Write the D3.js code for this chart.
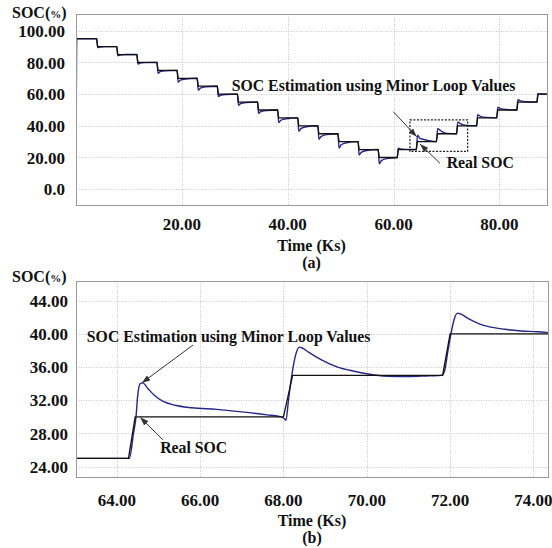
<!DOCTYPE html>
<html>
<head>
<meta charset="utf-8">
<script src="https://cdn.jsdelivr.net/npm/d3@7"></script>
<style>
  body { margin: 0; background: #fff; }
  text { font-family: "Liberation Serif", "Times New Roman", serif; font-weight: bold; fill: #111; }
  .grid { stroke: #c4c4c4; stroke-width: 1; stroke-dasharray: 1,1.5; }
  .frame { fill: none; stroke: #9a9a9a; stroke-width: 1; }
  .real { fill: none; stroke: #111; stroke-width: 1.3; }
  .est { fill: none; stroke: #26268a; stroke-width: 1.4; }
  .note { stroke: #333; stroke-width: 1; }
</style>
</head>
<body>
<script>
// ---- data, panel (a) ----
var stepTimesA = [3.9, 7.7, 11.5, 15.3, 19.1, 22.9, 26.7, 30.5, 34.3, 38.1, 41.9, 45.7, 49.5, 53.3, 57.1,
                  60.7, 64.3, 68.1, 71.9, 75.7, 79.5, 83.3, 87.1];
var realLevelsA = [95, 90, 85, 80, 75, 70, 65, 60, 55, 50, 45, 40, 35, 30, 25, 20,
                   25, 30, 35, 40, 45, 50, 55, 60];
var estA = [[0, 0], [0.15, 95], [3.9, 95],
  [4.1, 89.4], [4.5, 89.8], [5.5, 90], [7.7, 90],
  [7.9, 84.2], [8.3, 84.7], [9.3, 85], [11.5, 85],
  [11.7, 79], [12.1, 79.6], [13.1, 79.9], [15.3, 80],
  [15.5, 73.2], [15.9, 74.2], [16.9, 74.8], [19.1, 75],
  [19.3, 67.5], [19.7, 68.8], [20.7, 69.6], [22.9, 70],
  [23.1, 62.5], [23.5, 63.8], [24.5, 64.6], [26.7, 65],
  [26.9, 58.5], [27.3, 59.3], [28.3, 59.8], [30.5, 60],
  [30.7, 53], [31.1, 54], [32.1, 54.7], [34.3, 55],
  [34.5, 47.8], [34.9, 48.9], [35.9, 49.6], [38.1, 50],
  [38.3, 42], [38.7, 43.5], [39.7, 44.5], [41.9, 45],
  [42.1, 36.5], [42.5, 38.2], [43.5, 39.4], [45.7, 40],
  [45.9, 31.5], [46.3, 33.2], [47.3, 34.4], [49.5, 35],
  [49.7, 26], [50.1, 28], [51.1, 29.3], [53.3, 30],
  [53.5, 21.5], [53.9, 23.2], [54.9, 24.4], [57.1, 25],
  [57.3, 16], [57.7, 18], [58.7, 19.3], [60.7, 20],
  [60.9, 25.8], [61.3, 25.4], [62.3, 25.1], [64.3, 25],
  [64.55, 34], [65.0, 32], [66.5, 30.8], [68.1, 30],
  [68.35, 38.4], [68.9, 36.9], [70, 35.2], [71.9, 35],
  [72.15, 42.5], [72.6, 41.4], [73.5, 40.4], [75.7, 40],
  [75.9, 47], [76.4, 46], [77.5, 45.3], [79.5, 45],
  [79.7, 51.8], [80.2, 50.9], [81.3, 50.3], [83.3, 50],
  [83.5, 56.5], [84, 55.7], [85.1, 55.2], [87.1, 55],
  [87.3, 60.3], [88, 60.1], [89, 60]];
var xTicksA = [20, 40, 60, 80];
var yTicksA = [0, 20, 40, 60, 80, 100];
var yLabelsA = ["0.0", "20.00", "40.00", "60.00", "80.00", "100.00"];
var zoomBoxA = [63.1, 74.0, 23.8, 43.8];   // t0, t1, soc0, soc1

// ---- data, panel (b) ----
var realB = [[63.02, 25], [64.28, 25], [64.44, 30], [68.0, 30], [68.22, 35], [71.82, 35], [72.0, 40], [74.35, 40]];
var estB = [[63.02, 25.0], [64.30, 25.0], [64.40, 28.0], [64.46, 30.0], [64.50, 32.5], [64.56, 34.0],
  [64.62, 34.1], [64.75, 33.4], [64.9, 32.6], [65.1, 31.9], [65.4, 31.4], [65.8, 31.1], [66.4, 30.9],
  [67.0, 30.6], [67.6, 30.25], [67.9, 30.05], [68.02, 29.8], [68.06, 29.6], [68.12, 32.0], [68.2, 35.0],
  [68.3, 37.6], [68.38, 38.4], [68.45, 38.3], [68.6, 37.8], [68.9, 36.9], [69.3, 36.0], [69.7, 35.5],
  [70.0, 35.2], [70.5, 34.9], [71.0, 34.85], [71.5, 34.95], [71.8, 35.0], [71.86, 35.4], [71.95, 38.0],
  [72.02, 40.0], [72.1, 41.8], [72.18, 42.5], [72.25, 42.4], [72.45, 41.8], [72.7, 41.2], [72.9, 40.9],
  [73.3, 40.55], [73.7, 40.35], [74.1, 40.25], [74.35, 40.15]];
var xTicksB = [64, 66, 68, 70, 72, 74];
var yTicksB = [24, 28, 32, 36, 40, 44];
var yLabelsB = ["24.00", "28.00", "32.00", "36.00", "40.00", "44.00"];

var estLabel = "SOC Estimation using Minor Loop Values",
    realLabel = "Real SOC";

//annotations in data units: text position, arrow start, arrow tip
var notesA = [
    {text: estLabel, at: [29.42, 61.67], from: [59.96, 48.9], to: [64.38, 33.13]},
    {text: realLabel, at: [70.05, 13.17], from: [68.78, 16.33], to: [65.0, 28.5]}
];
var notesB = [
    {text: estLabel, at: [63.28, 39.06], from: [65.83, 38.66], to: [64.6, 34.09]},
    {text: realLabel, at: [65.04, 25.69], from: [65.11, 27.22], to: [64.56, 29.95]}
];

//build the step profile of the real SOC in (a)
var realA = [[0, realLevelsA[0]]];
stepTimesA.forEach(function(t, i) {
    realA.push([t, realLevelsA[i]]);
    realA.push([t + 0.2, realLevelsA[i + 1]]);
});
realA.push([89, realLevelsA[realLevelsA.length - 1]]);

var svg = d3.select("body").append("svg")
    .attr("width", 552)
    .attr("height", 548);

var defs = svg.append("defs");
defs.append("marker")
    .attr("id", "head")
    .attr("viewBox", "0 0 10 7")
    .attr("refX", 10).attr("refY", 3.5)
    .attr("markerWidth", 9).attr("markerHeight", 6)
    .attr("markerUnits", "userSpaceOnUse")
    .attr("orient", "auto")
    .append("path")
    .attr("d", "M0,0L10,3.5L0,7z")
    .attr("fill", "#333");

drawPanel({
    id: "a", left: 76, right: 547, top: 14, bottom: 205,
    xDomain: [0, 89], yDomain: [-10, 110.6],
    xTicks: xTicksA, yTicks: yTicksA, yLabels: yLabelsA, yLabelX: 65,
    real: realA, est: estA, notes: notesA, box: zoomBoxA,
    tickY: 230, titleY: 251, capY: 268, socY: 18
});

drawPanel({
    id: "b", left: 76, right: 548, top: 281, bottom: 477,
    xDomain: [63.02, 74.35], yDomain: [22.76, 46.37],
    xTicks: xTicksB, yTicks: yTicksB, yLabels: yLabelsB, yLabelX: 68,
    real: realB, est: estB, notes: notesB, box: null,
    tickY: 506, titleY: 526, capY: 543, socY: 282
});

function drawPanel(p) {
    var x = d3.scaleLinear().domain(p.xDomain).range([p.left, p.right]);
    var y = d3.scaleLinear().domain(p.yDomain).range([p.bottom, p.top]);
    var g = svg.append("g");

    defs.append("clipPath").attr("id", "clip" + p.id)
        .append("rect")
        .attr("x", p.left).attr("y", p.top)
        .attr("width", p.right - p.left).attr("height", p.bottom - p.top);

    //grid lines
    g.selectAll(".gx").data(p.xTicks).enter().append("line")
        .attr("class", "grid")
        .attr("x1", function(d) { return Math.round(x(d)) + 0.5; })
        .attr("x2", function(d) { return Math.round(x(d)) + 0.5; })
        .attr("y1", p.top).attr("y2", p.bottom);
    g.selectAll(".gy").data(p.yTicks).enter().append("line")
        .attr("class", "grid")
        .attr("y1", function(d) { return Math.round(y(d)) + 0.5; })
        .attr("y2", function(d) { return Math.round(y(d)) + 0.5; })
        .attr("x1", p.left).attr("x2", p.right);

    //curves
    var line = d3.line()
        .x(function(d) { return x(d[0]); })
        .y(function(d) { return y(d[1]); })
        .curve(d3.curveMonotoneX);
    var plot = g.append("g").attr("clip-path", "url(#clip" + p.id + ")");
    plot.append("path").datum(p.est).attr("class", "est").attr("d", line);
    plot.append("path").datum(p.real).attr("class", "real")
        .attr("d", line.curve(d3.curveLinear));

    //frame
    g.append("rect").attr("class", "frame")
        .attr("x", p.left + 0.5).attr("y", p.top + 0.5)
        .attr("width", p.right - p.left).attr("height", p.bottom - p.top);

    //zoom window
    if (p.box) {
        g.append("rect")
            .attr("x", x(p.box[0])).attr("y", y(p.box[3]))
            .attr("width", x(p.box[1]) - x(p.box[0]))
            .attr("height", y(p.box[2]) - y(p.box[3]))
            .attr("fill", "none").attr("stroke", "#222")
            .attr("stroke-width", 1.2).attr("stroke-dasharray", "2,1.5");
    }

    //tick labels
    g.selectAll(".ty").data(p.yTicks).enter().append("text")
        .attr("x", p.yLabelX).attr("y", function(d) { return y(d); })
        .attr("dy", "0.36em")
        .attr("text-anchor", "end")
        .style("font-size", "17px")
        .text(function(d, i) { return p.yLabels[i]; });
    g.selectAll(".tx").data(p.xTicks).enter().append("text")
        .attr("x", function(d) { return x(d); }).attr("y", p.tickY)
        .attr("text-anchor", "middle")
        .style("font-size", "17px")
        .text(d3.format(".2f"));

    //axis titles
    var cx = (p.left + p.right) / 2;
    g.append("text").attr("x", cx).attr("y", p.titleY)
        .attr("text-anchor", "middle").style("font-size", "16px")
        .text("Time (Ks)");
    g.append("text").attr("x", cx).attr("y", p.capY)
        .attr("text-anchor", "middle").style("font-size", "16px")
        .text("(" + p.id + ")");
    var soc = g.append("text").attr("x", 12).attr("y", p.socY).style("font-size", "16px");
    soc.append("tspan").text("SOC(");
    soc.append("tspan").style("font-size", "11px").text("%");
    soc.append("tspan").text(")");

    //annotations
    p.notes.forEach(function(n) {
        g.append("line").attr("class", "note")
            .attr("x1", x(n.from[0])).attr("y1", y(n.from[1]))
            .attr("x2", x(n.to[0])).attr("y2", y(n.to[1]))
            .attr("marker-end", "url(#head)");
        g.append("text").attr("x", x(n.at[0])).attr("y", y(n.at[1]))
            .style("font-size", "15.8px")
            .text(n.text);
    });
}
</script>
</body>
</html>
